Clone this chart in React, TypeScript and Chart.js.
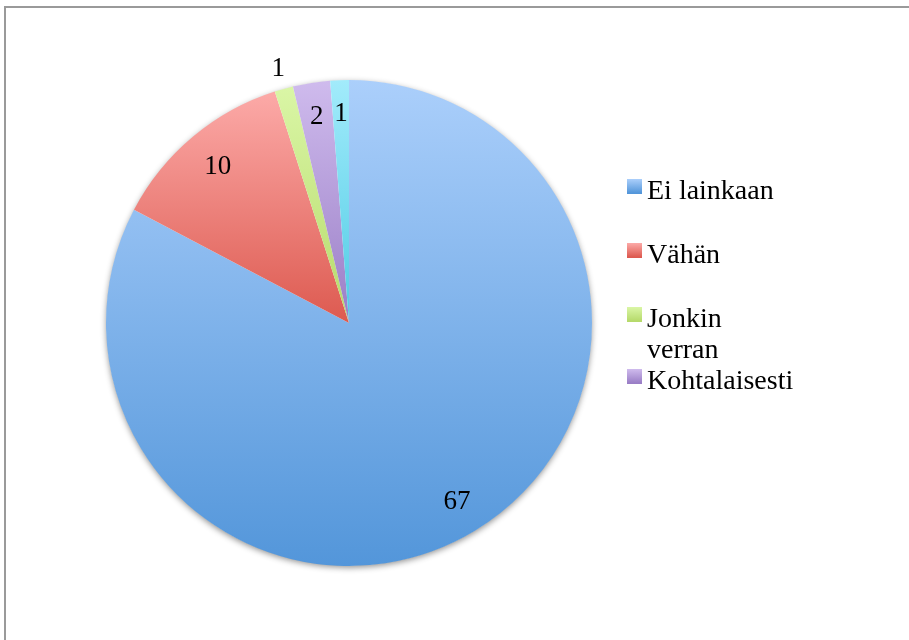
import React, { useEffect, useRef } from "react";
import { Chart, registerables } from "chart.js";

Chart.register(...registerables);

const categories = ["Ei lainkaan", "Vähän", "Jonkin verran", "Kohtalaisesti", "Paljon"];
const values = [67, 10, 1, 2, 1];
const legendLines = [["Ei lainkaan"], ["Vähän"], ["Jonkin", "verran"], ["Kohtalaisesti"]];
const gradientTop = ["#abcffb", "#fcaaa8", "#daf6a6", "#cfbbed", "#a2ebfb"];
const gradientBottom = ["#5396da", "#dd5a50", "#b6da6b", "#9a7ec6", "#4fcbe4"];

const FONT = "'Liberation Serif', 'Times New Roman', serif";

function arcYRange(arc: any): [number, number] {
  const { x, y, startAngle, endAngle, outerRadius } = arc;
  void x;
  const ys = [y, y + Math.sin(startAngle) * outerRadius, y + Math.sin(endAngle) * outerRadius];
  const TWO = Math.PI * 2;
  for (let k = -2; k <= 2; k++) {
    const up = -Math.PI / 2 + k * TWO;
    const down = Math.PI / 2 + k * TWO;
    if (up >= startAngle && up <= endAngle) ys.push(y - outerRadius);
    if (down >= startAngle && down <= endAngle) ys.push(y + outerRadius);
  }
  return [Math.min(...ys), Math.max(...ys)];
}

export default function App() {
  const ref = useRef<HTMLCanvasElement | null>(null);

  useEffect(() => {
    if (!ref.current) return;

    const shadowPlugin = {
      id: "pieShadow",
      beforeDatasetsDraw(chart: any) {
        const arc = chart.getDatasetMeta(0).data[0];
        if (!arc) return;
        const ctx = chart.ctx;
        ctx.save();
        ctx.shadowColor = "rgba(0,0,0,0.45)";
        ctx.shadowBlur = 6;
        ctx.shadowOffsetX = 0;
        ctx.shadowOffsetY = 2;
        ctx.fillStyle = "#ffffff";
        ctx.beginPath();
        ctx.arc(arc.x, arc.y, arc.outerRadius - 0.5, 0, Math.PI * 2);
        ctx.fill();
        ctx.restore();
      },
    };

    const framePlugin = {
      id: "frame",
      beforeDraw(chart: any) {
        const ctx = chart.ctx;
        ctx.save();
        ctx.strokeStyle = "#9a9a9a";
        ctx.lineWidth = 2;
        ctx.beginPath();
        ctx.moveTo(5, 700);
        ctx.lineTo(5, 7);
        ctx.lineTo(1000, 7);
        ctx.stroke();
        ctx.restore();
      },
    };

    const labelPlugin = {
      id: "sliceLabels",
      afterDatasetsDraw(chart: any) {
        const ctx = chart.ctx;
        const meta = chart.getDatasetMeta(0);
        ctx.save();
        ctx.font = `27px ${FONT}`;
        ctx.fillStyle = "#000";
        ctx.textAlign = "center";
        ctx.textBaseline = "middle";
        meta.data.forEach((arc: any, i: number) => {
          const mid = (arc.startAngle + arc.endAngle) / 2;
          const f = i === 2 ? 1.085 : i === 1 ? 0.84 : 0.86;
          const r = arc.outerRadius * f;
          const x = arc.x + Math.cos(mid) * r;
          const y = arc.y + Math.sin(mid) * r;
          ctx.fillText(String(values[i]), x, y);
        });
        ctx.restore();
      },
    };

    const legendPlugin = {
      id: "customLegend",
      afterDraw(chart: any) {
        const ctx = chart.ctx;
        ctx.save();
        ctx.font = `28px ${FONT}`;
        ctx.fillStyle = "#000";
        ctx.textBaseline = "alphabetic";
        const baselines = [199, 263, 327, 389];
        legendLines.forEach((lines, i) => {
          const b = baselines[i];
          const g = ctx.createLinearGradient(0, b - 20, 0, b - 6);
          g.addColorStop(0, gradientTop[i]);
          g.addColorStop(1, gradientBottom[i]);
          ctx.fillStyle = g;
          ctx.fillRect(627, b - 20, 15, 15);
          ctx.fillStyle = "#000";
          lines.forEach((t, j) => ctx.fillText(t, 647, b + j * 31));
        });
        ctx.restore();
      },
    };

    const chart = new Chart(ref.current, {
      type: "pie",
      data: {
        labels: categories,
        datasets: [
          {
            data: values,
            borderWidth: 0,
            backgroundColor: (context: any) => {
              const i = context.dataIndex;
              const c = context.chart;
              const arc = c.getDatasetMeta(0).data[i];
              if (!c.chartArea || !arc || !arc.outerRadius) return gradientBottom[i];
              const [top, bottom] = arcYRange(arc);
              const g = c.ctx.createLinearGradient(0, top, 0, Math.max(bottom, top + 1));
              g.addColorStop(0, gradientTop[i]);
              g.addColorStop(1, gradientBottom[i]);
              return g;
            },
          },
        ],
      },
      options: {
        responsive: false,
        animation: false,
        layout: { padding: { left: 106, right: 317, top: 80, bottom: 74 } },
        plugins: {
          legend: { display: false },
          tooltip: { enabled: false },
        },
      },
      plugins: [framePlugin, shadowPlugin, labelPlugin, legendPlugin],
    });
    chart.update();

    return () => chart.destroy();
  }, []);

  return (
    <div style={{ position: "fixed", left: 0, top: 0, width: 909, height: 640, background: "#fff" }}>
      <canvas ref={ref} width={909} height={640} style={{ display: "block" }} />
    </div>
  );
}
